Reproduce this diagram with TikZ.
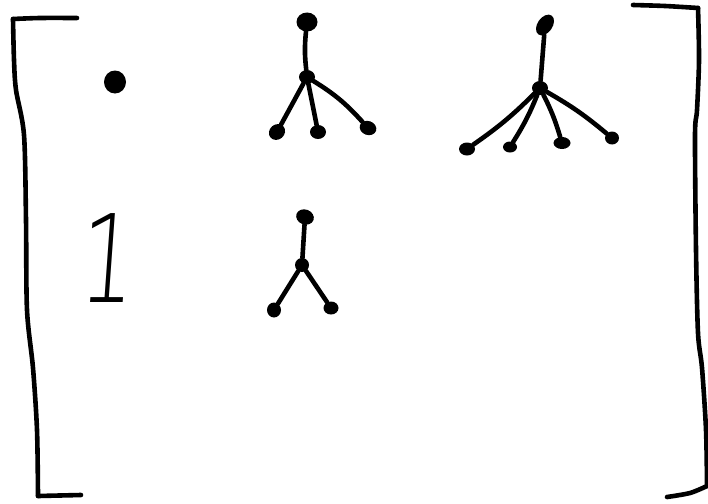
\documentclass[tikz,border=0pt]{standalone}
\usepackage{fontspec}
\newfontfamily\thinfont{DejaVu Sans ExtraLight}
\usetikzlibrary{shapes.geometric}
\begin{document}
\begin{tikzpicture}[x=1pt,y=-1pt,
  ink/.style={line width=4.6pt, line cap=round, line join=round},
  blob/.style={fill=black, ellipse, inner sep=0pt},
  leaf/.style={blob, minimum width=15pt, minimum height=12pt},
  mid/.style={blob, minimum width=15pt, minimum height=14pt}]
\useasboundingbox (0,0) rectangle (708,503);
% brackets
\draw[ink] plot[smooth] coordinates {(77,18) (40,18) (13,19)};
\draw[ink] plot[smooth] coordinates {(13,19) (14,60) (16,90) (24,135) (26,220) (27,310) (33,368) (37,430) (38,496)};
\draw[ink] (38,496) -- (81,495);
\draw[ink] plot[smooth] coordinates {(633,5) (665,6) (698,8)};
\draw[ink] plot[smooth] coordinates {(698,8) (699,60) (697,110) (695,135) (696,250) (698,333) (702,368) (706,430) (707,486)};
\draw[ink] plot[smooth] coordinates {(707,486) (690,493) (667,497)};
% single dot
\node[blob, minimum width=22pt, minimum height=23pt] (dot) at (115,82) {};
% one
\node[font=\thinfont\fontsize{122}{122}\selectfont, inner sep=0pt, xscale=0.72, xslant=0.1, transform shape] (one) at (109,258) {1};
% tree 1
\node[blob, minimum width=21pt, minimum height=19pt] (r1) at (307,22) {};
\node[mid, minimum width=16pt] (m1) at (307,77) {};
\node[leaf, minimum width=17pt, minimum height=15pt, rotate=40] (a1) at (277,132) {};
\node[leaf, minimum width=16pt, minimum height=14pt] (b1) at (318,132) {};
\node[leaf, minimum width=17pt, minimum height=14pt, rotate=-20] (c1) at (368,128) {};
\draw[ink] (r1) to[bend right=6] (m1);
\draw[ink] (m1) -- (a1);
\draw[ink] (m1) -- (b1);
\draw[ink] (m1) to[bend left=8] (c1);
% tree 2
\node[blob, minimum width=15pt, minimum height=23pt, rotate=-35] (r2) at (545,25) {};
\node[mid, minimum width=16pt] (m2) at (540,88) {};
\node[leaf, minimum width=16pt, minimum height=13pt] (a2) at (467,149) {};
\node[leaf, minimum width=14pt, minimum height=11pt] (b2) at (510,147) {};
\node[leaf, minimum width=17pt, minimum height=12pt] (c2) at (562,143) {};
\node[leaf, minimum width=14pt, minimum height=13pt] (d2) at (612,138) {};
\draw[ink] (r2) -- (m2);
\draw[ink] (m2) to[bend left=5] (a2);
\draw[ink] (m2) to[bend left=5] (b2);
\draw[ink] (m2) to[bend left=5] (c2);
\draw[ink] (m2) to[bend left=5] (d2);
% tree 3
\node[blob, minimum width=18pt, minimum height=15pt, rotate=-20] (r3) at (305,217) {};
\node[mid, minimum width=14pt, minimum height=14pt] (m3) at (302,265) {};
\node[leaf, minimum width=14pt, minimum height=15pt] (a3) at (274,310) {};
\node[leaf, minimum width=15pt, minimum height=13pt] (b3) at (331,308) {};
\draw[ink] (r3) -- (m3);
\draw[ink] (m3) -- (a3);
\draw[ink] (m3) -- (b3);
\end{tikzpicture}
\end{document}
